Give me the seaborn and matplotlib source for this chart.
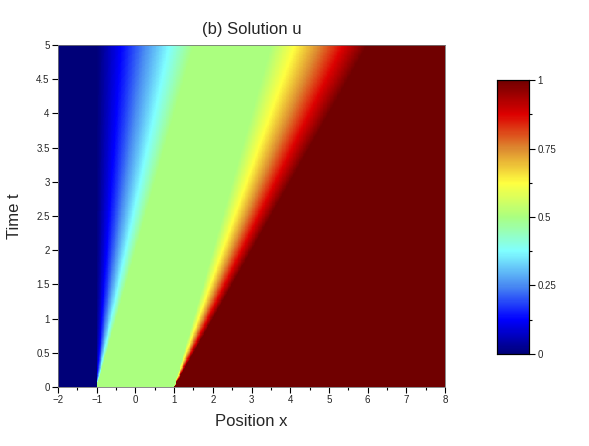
import numpy as np
import pandas as pd
import matplotlib
matplotlib.use("Agg")
import matplotlib.pyplot as plt
from matplotlib.colors import LinearSegmentedColormap
from matplotlib.ticker import MultipleLocator, FixedLocator
import seaborn as sns

# Riemann problem (Burgers)
states = [0.0, 0.5, 1.0]        # u left, middle, right at t=0
jumps = [-1.0, 1.0]             # positions of the initial jumps
x_range = [-2.0, 8.0]
t_range = [0.0, 5.0]
x_ticks = [-2, -1, 0, 1, 2, 3, 4, 5, 6, 7, 8]
t_ticks = [0, 0.5, 1, 1.5, 2, 2.5, 3, 3.5, 4, 4.5, 5]
cbar_ticks = [0, 0.25, 0.5, 0.75, 1]

nx, nt = 500, 300
dx = (x_range[1] - x_range[0]) / nx
dt = (t_range[1] - t_range[0]) / nt
xs = x_range[0] + dx * (np.arange(nx) + 0.5)
ts = t_range[1] - dt * (np.arange(nt) + 0.5)   # top row = t max

X, T = np.meshgrid(xs, ts)
Tsafe = np.maximum(T, 1e-9)
# two rarefaction fans
fan1 = np.clip((X - jumps[0]) / Tsafe, states[0], states[1])
fan2 = np.clip((X - jumps[1]) / Tsafe, states[1], states[2])
u = np.where(X < jumps[0] + states[1] * Tsafe, fan1, fan2)
df = pd.DataFrame(u, index=np.round(ts, 3), columns=np.round(xs, 3))

# matlab-ish jet, lighter in the middle
cmap = LinearSegmentedColormap.from_list("jet_like", [
    (0.0, "#000078"), (0.125, "#0000ff"), (0.25, "#4a8cf2"),
    (0.375, "#80ffff"), (0.5, "#aaff80"), (0.625, "#ffff40"),
    (0.75, "#dd8a30"), (0.875, "#dd0000"), (1.0, "#700000")])

sns.set_theme(style="ticks")
plt.rcParams['font.family'] = ['Liberation Sans', 'DejaVu Sans']

fig = plt.figure(figsize=(5.89, 4.46), dpi=100)
ax = fig.add_axes([0.0985, 0.1323, 0.657, 0.7667])
cax = fig.add_axes([0.8438, 0.2063, 0.0543, 0.6143])

sns.heatmap(df, ax=ax, cmap=cmap, vmin=0, vmax=1, cbar_ax=cax,
            xticklabels=False, yticklabels=False, rasterized=True)

# map data values to heatmap cell coordinates
ax.set_xticks([(v - x_range[0]) / dx for v in x_ticks])
ax.set_xticklabels([str(v).replace("-", "\u2212") for v in x_ticks])
ax.xaxis.set_minor_locator(FixedLocator([(v + 0.5 - x_range[0]) / dx for v in x_ticks[:-1]]))
ax.set_yticks([(t_range[1] - v) / dt for v in t_ticks])
ax.set_yticklabels([f"{v:g}" for v in t_ticks])
ax.tick_params(axis="both", which="major", labelsize=7, length=4, width=0.8,
               direction="out", color="black", pad=2)
ax.tick_params(axis="x", which="minor", length=2.5, width=0.8, color="black")
ax.tick_params(axis="y", labelrotation=0)
ax.tick_params(axis="x", labelrotation=0)
for s in ax.spines.values():
    s.set_visible(True)
    s.set_linewidth(0.6)
    s.set_color("#777777")

ax.set_title("(b) Solution u", fontsize=12, pad=8)
ax.set_xlabel("Position x", fontsize=12, labelpad=6)
ax.set_ylabel("Time t", fontsize=12, labelpad=10)

cax.set_yticks(cbar_ticks)
cax.set_yticklabels([f"{v:g}" for v in cbar_ticks])
cax.yaxis.set_minor_locator(MultipleLocator(0.125))
cax.tick_params(axis="y", which="major", labelsize=7, length=4, width=0.8, color="black", pad=2)
cax.tick_params(axis="y", which="minor", length=2.5, width=0.8, color="black")
for s in cax.spines.values():
    s.set_visible(True)
    s.set_linewidth(0.8)
    s.set_color("black")

fig.savefig("out.png", dpi=100)
